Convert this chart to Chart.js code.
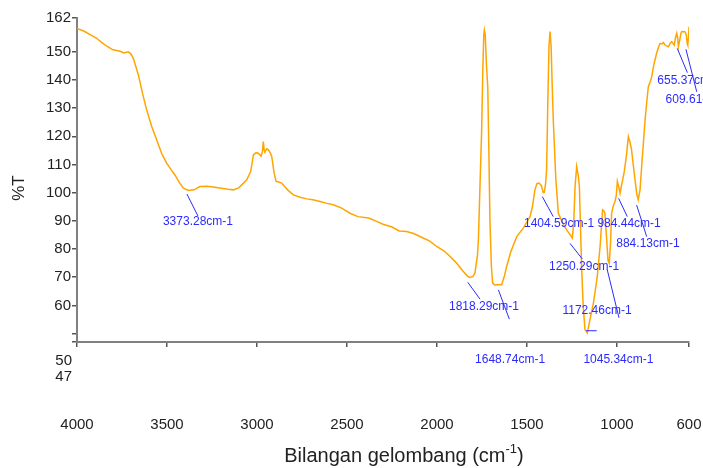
<!DOCTYPE html>
<html>
<head>
<meta charset="utf-8">
<script src="https://cdn.jsdelivr.net/npm/chart.js@4"></script>
<style>
html, body { margin: 0; padding: 0; background: #fff; }
</style>
</head>
<body>
<canvas id="grafikFTIR" width="703" height="468"></canvas>
<script>
// data spektrum
const bilanganGelombang = [
    4000, 3960, 3920, 3891, 3860, 3830, 3800, 3760, 3740, 3715, 3700, 3687, 3659, 3635, 3613, 3585, 3557, 3530, 3502, 3470,
    3456, 3430, 3409, 3381, 3350, 3317, 3280, 3243, 3200, 3160, 3131, 3100, 3057, 3035, 3020, 3005, 2993, 2978, 2970, 2965,
    2960, 2956, 2945, 2937, 2925, 2918, 2905, 2894, 2880, 2863, 2830, 2798, 2760, 2724, 2690, 2650, 2610, 2576, 2530, 2483,
    2440, 2380, 2335, 2300, 2250, 2210, 2169, 2130, 2080, 2040, 2002, 1960, 1930, 1891, 1860, 1830, 1817, 1800, 1789, 1775,
    1770, 1760, 1752, 1745, 1740, 1737, 1732, 1725, 1718, 1712, 1706, 1698, 1691, 1680, 1660, 1641, 1625, 1613, 1590, 1557,
    1520, 1483, 1470, 1456, 1445, 1433, 1420, 1410, 1404, 1397, 1391, 1385, 1378, 1372, 1366, 1360, 1354, 1340, 1326, 1300,
    1280, 1260, 1248, 1240, 1233, 1224, 1215, 1209, 1203, 1196, 1188, 1178, 1165, 1150, 1131, 1110, 1094, 1080, 1073, 1067,
    1058, 1050, 1043, 1036, 1030, 1020, 1011, 1004, 998, 990, 983, 975, 961, 948, 937, 928, 919, 910, 900, 890,
    882, 872, 863, 853, 844, 835, 826, 815, 807, 795, 780, 770, 761, 750, 742, 733, 722, 715, 705, 696,
    689, 682, 675, 668, 663, 659, 652, 645, 641, 630, 622, 615, 610, 607, 603, 600
];
const transmitansi = [
    158.3, 157.3, 155.8, 154.8, 153.2, 151.8, 150.7, 150.2, 149.6, 150.0, 149.2, 147.7, 141.8, 135.0, 129.4, 123.5, 118.7, 114.0, 110.5, 107.5,
    106.3, 103.5, 101.6, 100.8, 101.0, 102.2, 102.3, 102.0, 101.6, 101.2, 101.0, 101.8, 104.6, 107.5, 113.4, 114.2, 114.0, 113.0, 114.5, 118.1,
    115.0, 114.6, 115.6, 115.2, 114.0, 112.8, 107.0, 104.0, 103.8, 103.4, 101.0, 99.2, 98.4, 97.8, 97.5, 96.9, 96.2, 95.7, 94.5, 92.7,
    91.5, 91.0, 89.8, 88.8, 87.8, 86.4, 86.2, 85.5, 84.0, 82.8, 80.9, 79.3, 77.5, 75.0, 72.5, 70.3, 69.9, 70.3, 71.5, 78.0,
    83.3, 105.0, 122.0, 145.0, 156.0, 157.7, 156.0, 145.0, 137.6, 115.0, 90.4, 74.0, 67.9, 67.2, 67.3, 67.3, 70.5, 73.8, 79.0, 84.4,
    87.5, 91.5, 95.0, 101.0, 103.2, 103.4, 102.5, 100.0, 100.1, 103.0, 108.1, 130.0, 152.0, 157.2, 152.0, 138.0, 125.8, 105.0, 92.7, 89.0,
    86.8, 85.0, 83.9, 90.0, 102.2, 109.3, 106.0, 102.2, 88.0, 72.6, 60.0, 51.4, 50.2, 55.0, 60.8, 70.0, 80.9, 93.9, 93.5, 92.7,
    84.0, 76.0, 75.0, 82.0, 92.7, 95.5, 96.9, 99.0, 104.0, 102.0, 99.8, 102.5, 106.9, 113.0, 119.9, 118.0, 115.2, 110.0, 104.6, 99.5,
    97.5, 101.0, 109.3, 118.0, 125.8, 132.0, 137.6, 139.5, 141.2, 145.5, 149.5, 151.5, 153.0, 152.8, 153.3, 152.4, 152.0, 151.8, 153.0, 153.6,
    153.0, 152.4, 155.0, 156.6, 155.0, 151.8, 154.0, 156.5, 157.1, 157.2, 157.1, 156.0, 153.0, 152.4, 155.0, 158.9
];
const tickX = [4000, 3500, 3000, 2500, 2000, 1500, 1000, 600];
const tickY = [162, 150, 140, 130, 120, 110, 100, 90, 80, 70, 60, 50, 47];
const labelYBawah = ['50', '47'];
const namaPuncak = [
    '3373.28cm-1', '1818.29cm-1', '1648.74cm-1', '1404.59cm-1', '984.44cm-1', '884.13cm-1',
    '1250.29cm-1', '1172.46cm-1', '1045.34cm-1', '655.37cm-1', '609.61cm-1'
];

// posisi garis penunjuk dan label puncak, dalam koordinat data [x1, y1, x2, y2, xLabel, yLabel, rata]
const letakPuncak = [
    [3389, 99.5, 3328, 91.7, 3328, 89.6, 'center'],
    [1829, 68.2, 1761, 62.2, 1739, 59.4, 'center'],
    [1659, 65.5, 1598, 55.1, 1594, 40.6, 'center'],
    [1415, 98.6, 1354, 91.5, 1322, 88.9, 'center'],
    [991, 98.0, 943, 91.5, 933, 88.9, 'center'],
    [891, 95.6, 835, 84.4, 828, 82.0, 'center'],
    [1261, 82.0, 1193, 76.5, 1183, 73.6, 'center'],
    [1172, 51.0, 1113, 51.0, 1111, 58.0, 'center'],
    [1054, 72.6, 989, 55.6, 992, 40.6, 'center'],
    [665, 151.2, 609, 142.6, 776, 139.7, 'left'],
    [617, 150.9, 557, 135.8, 730, 133.1, 'left']
];

const fuente = 'Liberation Sans, Arial, sans-serif';

const anotasi = {
    id: 'anotasi',
    afterDraw(chart) {
        const ctx = chart.ctx;
        const sx = chart.scales.x;
        const sy = chart.scales.y;
        const area = chart.chartArea;
        ctx.save();

        // label puncak
        ctx.strokeStyle = '#2b2bff';
        ctx.fillStyle = '#2b2bff';
        ctx.lineWidth = 1;
        ctx.font = '12px ' + fuente;
        ctx.textBaseline = 'middle';
        letakPuncak.forEach((p, i) => {
            ctx.beginPath();
            ctx.moveTo(sx.getPixelForValue(p[0]), sy.getPixelForValue(p[1]));
            ctx.lineTo(sx.getPixelForValue(p[2]), sy.getPixelForValue(p[3]));
            ctx.stroke();
            ctx.textAlign = p[6];
            ctx.fillText(namaPuncak[i], sx.getPixelForValue(p[4]), sy.getPixelForValue(p[5]));
        });

        // label 50 dan 47 yang jatuh di bawah sumbu
        ctx.fillStyle = '#222';
        ctx.font = '15px ' + fuente;
        ctx.textAlign = 'right';
        labelYBawah.forEach((t, i) => {
            ctx.fillText(t, area.left - 5, area.bottom + 19 + i * 16);
        });

        // judul sumbu x dengan pangkat
        const judul = 'Bilangan gelombang (cm';
        ctx.font = '20px ' + fuente;
        const w1 = ctx.measureText(judul).width;
        ctx.font = '13px ' + fuente;
        const w2 = ctx.measureText('-1').width;
        ctx.font = '20px ' + fuente;
        const w3 = ctx.measureText(')').width;
        let x0 = 404 - (w1 + w2 + w3) / 2;
        ctx.textAlign = 'left';
        ctx.textBaseline = 'alphabetic';
        ctx.fillText(judul, x0, 462);
        ctx.font = '13px ' + fuente;
        ctx.fillText('-1', x0 + w1, 453);
        ctx.font = '20px ' + fuente;
        ctx.fillText(')', x0 + w1 + w2, 462);

        // judul sumbu y
        ctx.translate(19, 188);
        ctx.rotate(-Math.PI / 2);
        ctx.textAlign = 'center';
        ctx.textBaseline = 'middle';
        ctx.font = '17px ' + fuente;
        ctx.fillText('%T', 0, 0);
        ctx.restore();
    }
};

new Chart(document.getElementById('grafikFTIR'), {
    type: 'line',
    data: {
        datasets: [{
            data: bilanganGelombang.map((x, i) => ({ x: x, y: transmitansi[i] })),
            borderColor: '#ffa500',
            borderWidth: 1.5,
            pointRadius: 0,
            tension: 0,
            fill: false
        }]
    },
    options: {
        responsive: false,
        animation: false,
        layout: { padding: { left: 0, top: 18, right: 14, bottom: 0 } },
        plugins: { legend: { display: false }, tooltip: { enabled: false } },
        scales: {
            x: {
                type: 'linear',
                reverse: true,
                min: 600,
                max: 4000,
                afterBuildTicks: s => { s.ticks = tickX.map(v => ({ value: v })); },
                afterFit: s => { s.height = 126; },
                grid: { drawOnChartArea: false, drawTicks: true, tickLength: 5, color: '#555', lineWidth: 1.5 },
                border: { color: '#808080', width: 2 },
                ticks: {
                    font: { family: fuente, size: 15, lineHeight: '52px' },
                    color: '#222',
                    padding: 0,
                    maxRotation: 0,
                    autoSkip: false,
                    // baris kosong pertama mendorong angka jauh di bawah sumbu seperti aslinya
                    callback: v => ['', String(v)]
                }
            },
            y: {
                min: 47,
                max: 162,
                afterBuildTicks: s => { s.ticks = tickY.map(v => ({ value: v })); },
                afterFit: s => { s.width = 77; },
                grid: { drawOnChartArea: false, drawTicks: true, tickLength: 5, color: '#555', lineWidth: 1.5 },
                border: { color: '#808080', width: 2 },
                ticks: {
                    font: { family: fuente, size: 15 },
                    color: '#222',
                    padding: 1,
                    autoSkip: false,
                    callback: v => (v === 50 || v === 47) ? '' : String(v)
                }
            }
        }
    },
    plugins: [anotasi]
});
</script>
</body>
</html>
